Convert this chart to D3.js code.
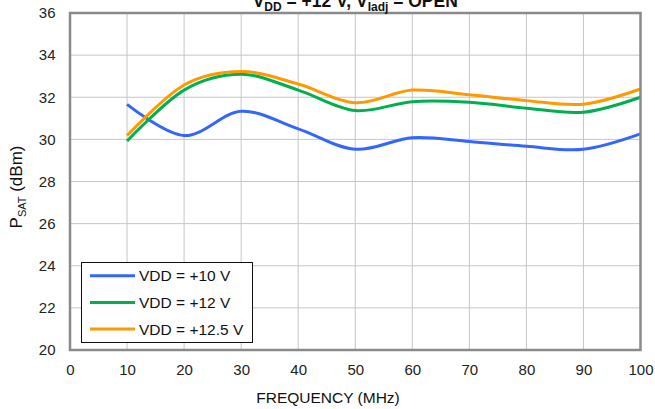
<!DOCTYPE html>
<html>
<head>
<meta charset="utf-8">
<script src="https://cdn.jsdelivr.net/npm/d3@7"></script>
<style>
  html, body { margin: 0; padding: 0; background: #fff; }
  svg { display: block; font-family: "Liberation Sans", Arial, sans-serif; }
</style>
</head>
<body>
<svg id="chart" width="655" height="409"></svg>
<script>
// Saturated output power vs frequency, three supply voltages
const frequencies = [10, 20, 30, 40, 50, 60, 70, 80, 90, 100];
const vdd10  = [31.66, 30.18, 31.33, 30.50, 29.53, 30.08, 29.90, 29.67, 29.53, 30.26];
const vdd12  = [29.92, 32.34, 33.09, 32.34, 31.37, 31.79, 31.76, 31.48, 31.29, 32.00];
const vdd125 = [30.18, 32.58, 33.22, 32.63, 31.74, 32.34, 32.12, 31.84, 31.67, 32.39];

const seriesNames  = ["VDD = +10 V", "VDD = +12 V", "VDD = +12.5 V"];
const seriesColors = ["#3366ff", "#00b050", "#ff9900"];
const xTicks = [0, 10, 20, 30, 40, 50, 60, 70, 80, 90, 100];
const yTicks = [20, 22, 24, 26, 28, 30, 32, 34, 36];

const series = [vdd10, vdd12, vdd125].map((vals, i) => ({
  name: seriesNames[i],
  color: seriesColors[i],
  points: frequencies.map((f, j) => [f, vals[j]])
}));

const svg = d3.select("#chart");
const plotLeft = 70, plotRight = 640.5, plotTop = 13, plotBottom = 350;

const x = d3.scaleLinear().domain([0, 100]).range([plotLeft, plotRight]);
const y = d3.scaleLinear().domain([20, 36]).range([plotBottom, plotTop]);

// grid
const grid = svg.append("g").attr("stroke", "#c6c6c6").attr("stroke-width", 1);
grid.selectAll("line.vx").data(xTicks.slice(1, -1)).join("line")
  .attr("class", "vx")
  .attr("x1", d => x(d)).attr("x2", d => x(d))
  .attr("y1", plotTop).attr("y2", plotBottom);
grid.selectAll("line.hy").data(yTicks.slice(1, -1)).join("line")
  .attr("class", "hy")
  .attr("x1", plotLeft).attr("x2", plotRight)
  .attr("y1", d => y(d)).attr("y2", d => y(d));

// x axis labels
const xAxis = d3.axisBottom(x).tickValues(xTicks).tickSize(0).tickPadding(0).tickFormat(d3.format("d"));
const gx = svg.append("g").attr("transform", `translate(0,${plotBottom + 14})`).call(xAxis);
gx.select(".domain").remove();
gx.selectAll("text").attr("font-size", 15).attr("fill", "#222")
  .attr("font-family", "Liberation Sans, Arial, sans-serif");

// y axis labels
const yAxis = d3.axisLeft(y).tickValues(yTicks).tickSize(0).tickPadding(0).tickFormat(d3.format("d"));
const gy = svg.append("g").attr("transform", `translate(55.5,0)`).call(yAxis);
gy.select(".domain").remove();
gy.selectAll("text").attr("font-size", 15).attr("fill", "#222")
  .attr("font-family", "Liberation Sans, Arial, sans-serif");

// curves
const line = d3.line()
  .x(d => x(d[0])).y(d => y(d[1]))
  .curve(d3.curveCardinal.tension(0));

svg.append("g").selectAll("path").data(series).join("path")
  .attr("d", d => line(d.points))
  .attr("fill", "none")
  .attr("stroke", d => d.color)
  .attr("stroke-width", 3)
  .attr("stroke-linecap", "butt");

// plot frame
svg.append("rect")
  .attr("x", plotLeft).attr("y", plotTop)
  .attr("width", plotRight - plotLeft).attr("height", plotBottom - plotTop)
  .attr("fill", "none").attr("stroke", "#8a8a8a").attr("stroke-width", 2.5);

// title (runs partly above the canvas edge)
const title = svg.append("text")
  .attr("x", (plotLeft + plotRight) / 2).attr("y", 6.5)
  .attr("text-anchor", "middle").attr("font-size", 17.5).attr("font-weight", "bold").attr("fill", "#111");
title.append("tspan").text("V");
title.append("tspan").attr("font-size", 12).attr("dy", 4.5).text("DD");
title.append("tspan").attr("dy", -4.5).text(" = +12 V, V");
title.append("tspan").attr("font-size", 12).attr("dy", 4.5).text("Iadj");
title.append("tspan").attr("dy", -4.5).text(" = OPEN");

// axis titles
svg.append("text")
  .attr("x", 328).attr("y", 403)
  .attr("text-anchor", "middle").attr("font-size", 15.5).attr("fill", "#111")
  .text("FREQUENCY (MHz)");

const yt = svg.append("text")
  .attr("transform", "translate(22,187) rotate(-90)")
  .attr("text-anchor", "middle").attr("font-size", 17).attr("fill", "#111");
yt.append("tspan").text("P");
yt.append("tspan").attr("font-size", 11).attr("dy", 4).text("SAT");
yt.append("tspan").attr("dy", -4).text(" (dBm)");

// legend
const lg = svg.append("g");
lg.append("rect")
  .attr("x", 81.5).attr("y", 262.5).attr("width", 171).attr("height", 80)
  .attr("fill", "#fff").attr("stroke", "#111").attr("stroke-width", 1);
const rows = lg.selectAll("g.row").data(series).join("g")
  .attr("class", "row")
  .attr("transform", (d, i) => `translate(0,${275.7 + i * 26.7})`);
rows.append("line")
  .attr("x1", 90).attr("x2", 135).attr("y1", 0).attr("y2", 0)
  .attr("stroke", d => d.color).attr("stroke-width", 3);
rows.append("text")
  .attr("x", 139).attr("y", 5.5)
  .attr("font-size", 15.5).attr("fill", "#111")
  .text(d => d.name);
</script>
</body>
</html>
